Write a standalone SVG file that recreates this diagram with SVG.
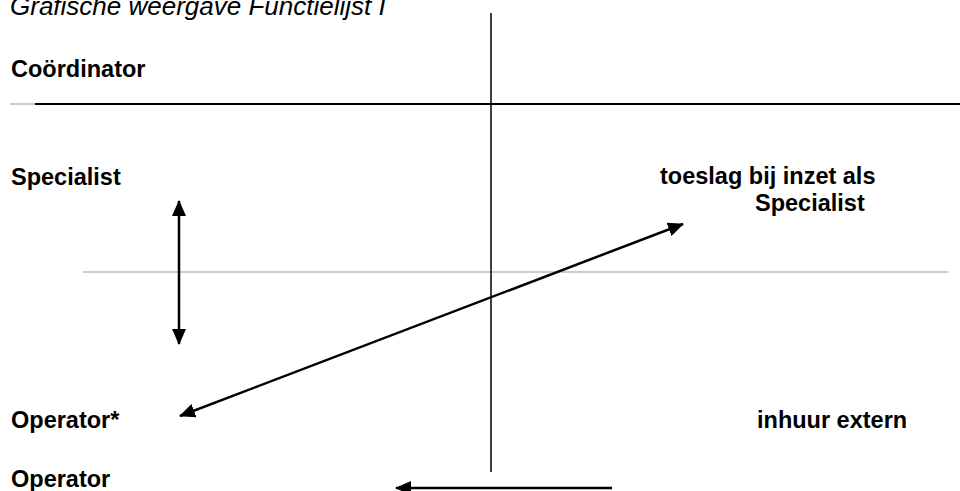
<svg xmlns="http://www.w3.org/2000/svg" width="960" height="491" viewBox="0 0 960 491">
<style>
.t{font-family:"Liberation Sans",Arial,sans-serif;font-size:23.5px;font-weight:bold;fill:#000}
.ti{font-family:"Liberation Sans",Arial,sans-serif;font-size:26px;font-style:italic;fill:#000}
.a{stroke:#000;stroke-width:2.5;fill:none}
</style>
<defs>
<marker id="ah" viewBox="0 0 16 14" refX="15" refY="7" markerWidth="16" markerHeight="14" markerUnits="userSpaceOnUse" orient="auto-start-reverse">
<path d="M0,0 L16,7 L0,14 Z" fill="#000"/>
</marker>
</defs>
<rect width="960" height="491" fill="#fff"/>
<g id="title"><text class="ti" x="10" y="15">Grafische weergave Functielijst I</text></g>
<g id="lines">
<line x1="10" y1="104" x2="35" y2="104" stroke="#999" stroke-width="1"/>
<line x1="35" y1="104" x2="960" y2="104" stroke="#000" stroke-width="2"/>
<line x1="83" y1="272" x2="948" y2="272" stroke="#999" stroke-width="1"/>
<line x1="491" y1="13" x2="491" y2="472" stroke="#000" stroke-width="1.5"/>
</g>
<g id="coordinator"><text class="t" x="11" y="77">Coördinator</text></g>
<g id="specialist"><text class="t" x="11" y="185">Specialist</text></g>
<g id="toeslag"><text class="t" x="660" y="184">toeslag bij inzet als</text><text class="t" x="755" y="211">Specialist</text></g>
<g id="operatorstar"><text class="t" x="11" y="428">Operator*</text></g>
<g id="inhuur"><text class="t" x="757" y="428">inhuur extern</text></g>
<g id="operator"><text class="t" x="11" y="487">Operator</text></g>
<g id="connectors">
<line class="a" x1="179" y1="201" x2="179" y2="344" marker-start="url(#ah)" marker-end="url(#ah)"/>
<line class="a" x1="180" y1="416" x2="683" y2="224" marker-start="url(#ah)" marker-end="url(#ah)"/>
<line class="a" x1="612" y1="488" x2="396" y2="488" marker-end="url(#ah)"/>
</g>
</svg>
